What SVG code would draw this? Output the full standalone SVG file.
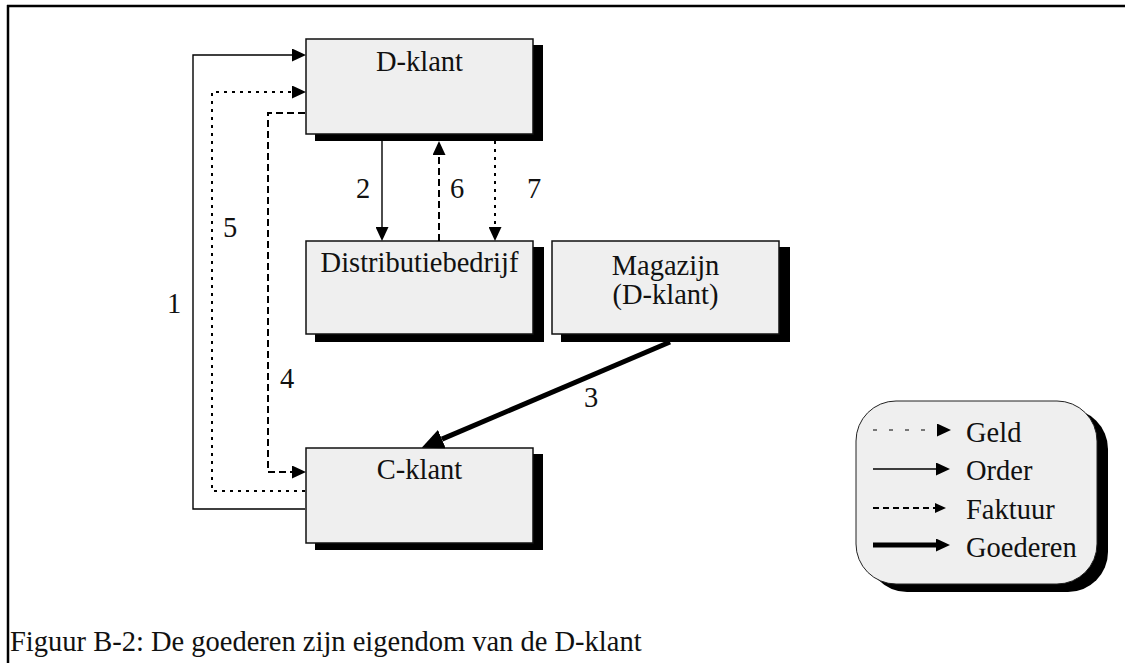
<svg xmlns="http://www.w3.org/2000/svg" width="1125" height="663" viewBox="0 0 1125 663" font-family="'Liberation Serif', 'Times New Roman', 'DejaVu Serif', serif">
  <defs>
    <style>
      text { font-family: 'Liberation Serif', 'Times New Roman', 'DejaVu Serif', serif; font-size: 28.5px; fill: #111; }
      .mid { text-anchor: middle; }
      .box { fill: #efefef; stroke: #111; stroke-width: 1.5; }
      .shadow { fill: #000; }
      .order { fill: none; stroke: #000; stroke-width: 1.4; }
      .geld { fill: none; stroke: #000; stroke-width: 2; stroke-dasharray: 3 5; }
      .faktuur { fill: none; stroke: #000; stroke-width: 2; stroke-dasharray: 7 4; }
      .goederen { fill: none; stroke: #000; stroke-width: 5; }
    </style>
    <marker id="arrow" markerUnits="userSpaceOnUse" viewBox="0 0 14 13" refX="0" refY="6.5" markerWidth="14" markerHeight="13" orient="auto">
      <path d="M0,0 L14,6.5 L0,13 z" fill="#000"/>
    </marker>
    <marker id="arrow-small" markerUnits="userSpaceOnUse" viewBox="0 0 11 10" refX="0" refY="5" markerWidth="11" markerHeight="10" orient="auto">
      <path d="M0,0 L11,5 L0,10 z" fill="#000"/>
    </marker>
    <marker id="arrow-big" markerUnits="userSpaceOnUse" viewBox="0 0 22 20" refX="0" refY="10" markerWidth="22" markerHeight="20" orient="auto">
      <path d="M0,0 L22,10 L0,20 z" fill="#000"/>
    </marker>
  </defs>

  <rect width="1125" height="663" fill="#fff"/>

  <!-- page frame -->
  <g id="frame">
    <line x1="7" y1="6" x2="1125" y2="6" stroke="#000" stroke-width="2.5"/>
    <line x1="8" y1="5" x2="8" y2="663" stroke="#000" stroke-width="2.5"/>
  </g>

  <!-- nodes -->
  <g id="d-klant">
    <rect class="shadow" x="315" y="45" width="228" height="96"/>
    <rect class="box" x="306" y="39" width="227" height="95"/>
    <text class="mid" x="419.5" y="71">D-klant</text>
  </g>

  <g id="distributiebedrijf">
    <rect class="shadow" x="315" y="247" width="229" height="95"/>
    <rect class="box" x="306" y="241" width="227" height="93"/>
    <text class="mid" x="419.5" y="272">Distributiebedrijf</text>
  </g>

  <g id="magazijn">
    <rect class="shadow" x="561" y="247" width="229" height="95"/>
    <rect class="box" x="552" y="241" width="227" height="93"/>
    <text class="mid" x="665.5" y="275">Magazijn</text>
    <text class="mid" x="665.5" y="304">(D-klant)</text>
  </g>

  <g id="c-klant">
    <rect class="shadow" x="315" y="454" width="228" height="96"/>
    <rect class="box" x="306" y="448" width="227" height="95"/>
    <text class="mid" x="419.5" y="479">C-klant</text>
  </g>

  <!-- connectors -->
  <g id="connectors">
    <path class="order" d="M305,509 H193 V55 H292" marker-end="url(#arrow)"/>
    <path class="geld" d="M305,491 H212 V92 H292" marker-end="url(#arrow)"/>
    <path class="faktuur" d="M305,113 H268 V472 H292" marker-end="url(#arrow)"/>
    <path class="order" d="M382,141 V227" marker-end="url(#arrow)"/>
    <path class="faktuur" d="M439,241 V155" marker-end="url(#arrow)"/>
    <path class="geld" d="M495,141 V227" marker-end="url(#arrow)"/>
    <path class="goederen" d="M670,342 L441.9,439.1" marker-end="url(#arrow-big)"/>
  </g>

  <!-- connector numbers -->
  <g id="labels">
    <text x="167" y="313">1</text>
    <text x="356" y="198">2</text>
    <text x="584" y="407">3</text>
    <text x="280" y="388">4</text>
    <text x="223" y="237">5</text>
    <text x="450" y="198">6</text>
    <text x="527" y="198">7</text>
  </g>

  <!-- legend -->
  <g id="legend">
    <rect class="shadow" x="867" y="409" width="241" height="183" rx="40"/>
    <rect x="856" y="401" width="241" height="183" rx="40" fill="#efefef" stroke="#222" stroke-width="1"/>
    <path d="M873,430 H925" fill="none" stroke="#000" stroke-width="1" stroke-dasharray="4 12"/>
    <path d="M937,430 L949,430" fill="none" stroke="none" marker-start="url(#arrow)"/>
    <text x="966" y="442">Geld</text>
    <path class="order" d="M873,469 H936" marker-end="url(#arrow)"/>
    <text x="966" y="480">Order</text>
    <path d="M873,508 H935" fill="none" stroke="#000" stroke-width="2" stroke-dasharray="6 4"/>
    <path d="M935,508 H936" fill="none" stroke="none" marker-start="url(#arrow-small)"/>
    <text x="966" y="519">Faktuur</text>
    <path class="goederen" d="M873,545 H936" marker-end="url(#arrow)"/>
    <text x="966" y="557">Goederen</text>
  </g>

  <text id="caption" x="10" y="651">Figuur B-2: De goederen zijn eigendom van de D-klant</text>
</svg>
